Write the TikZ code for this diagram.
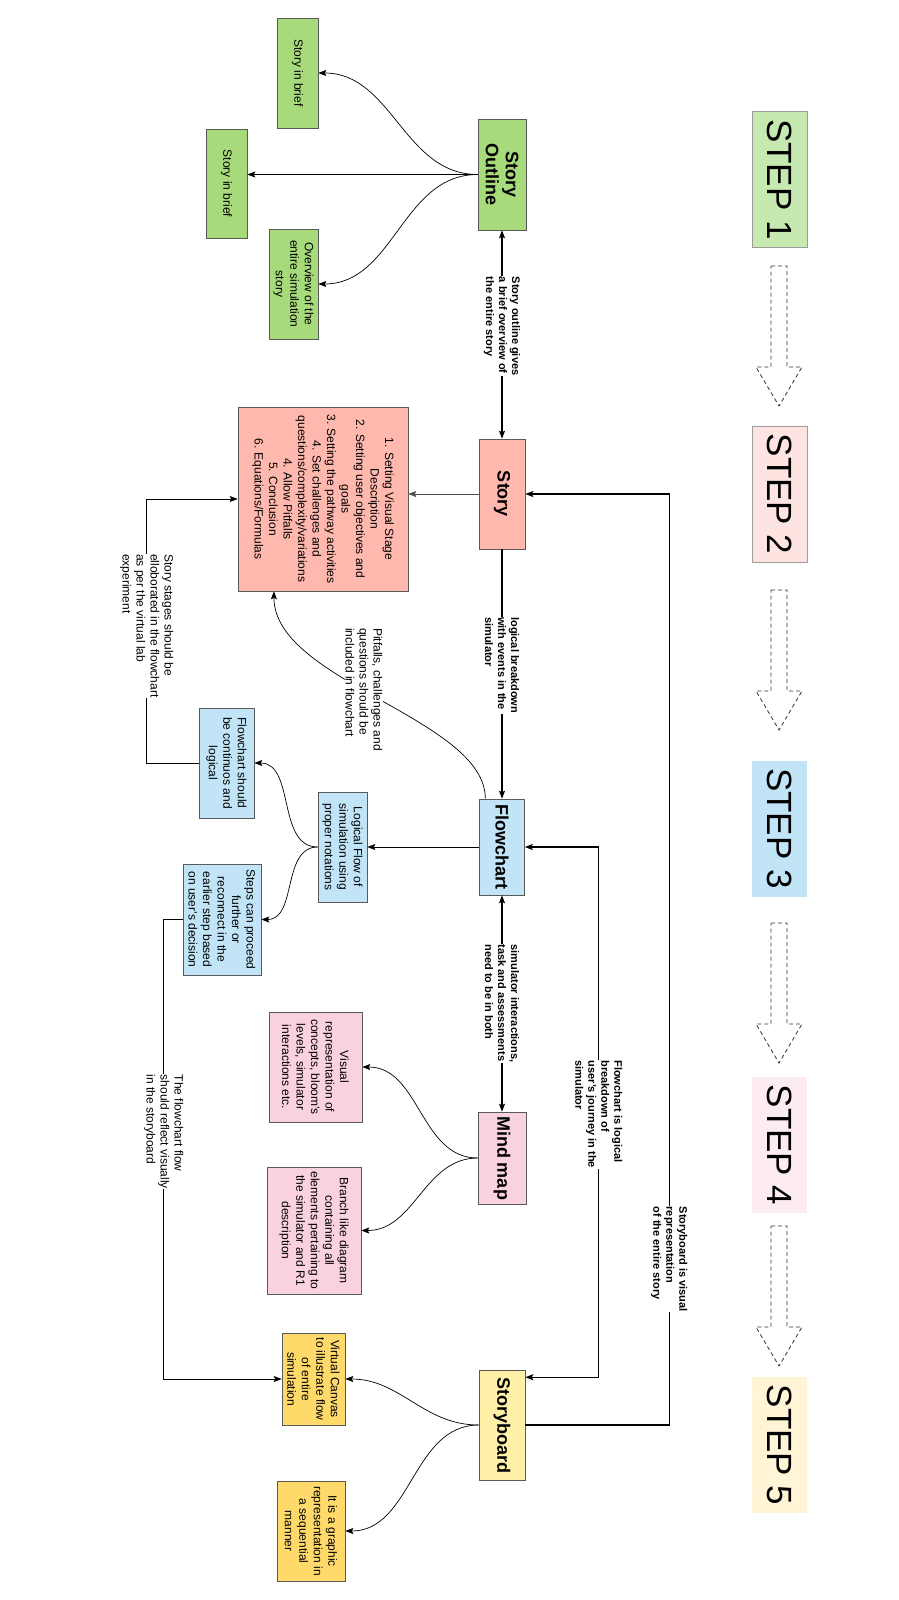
\documentclass[tikz,border=0pt]{standalone}
\usepackage{fontspec}
\setmainfont{Liberation Sans}
\usetikzlibrary{arrows.meta}
\definecolor{ogreen}{HTML}{A6DA7B}
\definecolor{sgreen}{HTML}{C6E8B1}
\definecolor{spink}{HTML}{FFB8AD}
\definecolor{spinklight}{HTML}{FDE4E0}
\definecolor{fblue}{HTML}{C1E4F7}
\definecolor{mpink}{HTML}{F9D2DE}
\definecolor{mpinklight}{HTML}{FCECF0}
\definecolor{byellow}{HTML}{FFF0A8}
\definecolor{bgold}{HTML}{FFDA6A}
\definecolor{byellowlight}{HTML}{FFF4D6}
\definecolor{edgegray}{HTML}{5A5A5A}

\begin{document}
\begin{tikzpicture}[x=1pt,y=-1pt,>={Stealth[length=8pt,width=6pt,inset=1.5pt]},
    card/.style={draw=edgegray,line width=0.6pt,rotate=-90,align=center,inner sep=2pt},
    mainbox/.style={card,minimum width=110pt,minimum height=46pt,font=\bfseries\fontsize{18}{20}\selectfont},
    notebox/.style={card,font=\fontsize{12}{14.5}\selectfont},
    stepbox/.style={rotate=-90,minimum width=136pt,minimum height=55pt,font=\fontsize{35}{40}\selectfont},
    lbl/.style={rotate=-90,fill=white,align=left,inner sep=0.5pt,font=\bfseries\fontsize{11}{13}\selectfont},
    note lbl/.style={lbl,font=\fontsize{12}{14}\selectfont},
    link/.style={line width=1.2pt},
    thin link/.style={line width=0.7pt}]
\useasboundingbox (0,0) rectangle (898,1600);

\node[mainbox,fill=ogreen,minimum width=111pt,minimum height=48pt] (outline) at (502,174.5) {Story\\Outline};
\node[mainbox,fill=spink] (story) at (502,494) {Story};
\node[mainbox,fill=fblue,minimum width=96pt,minimum height=45pt] (flow) at (502,847) {Flowchart};
\node[mainbox,fill=mpink,minimum width=92pt,minimum height=48pt] (mind) at (502,1158) {Mind map};
\node[mainbox,fill=byellow] (board) at (502,1425) {Storyboard};

\node[notebox,fill=ogreen,minimum width=110pt,minimum height=41pt] (brief1) at (297.5,73) {Story in brief};
\node[notebox,fill=ogreen,minimum width=109pt,minimum height=41pt] (brief2) at (226.5,183.5) {Story in brief};
\node[notebox,fill=ogreen,minimum width=110pt,minimum height=49pt] (overview) at (293.5,284) {Overview of the\\entire simulation\\story};
\node[notebox,fill=spink,minimum width=184pt,minimum height=170pt] (stages) at (323,499) {1. Setting Visual Stage\\Description\\2. Setting user objectives and\\goals\\3. Setting the pathway activities\\4. Set challenges and\\questions/complexity/variations\\4. Allow Pitfalls\\5. Conclusion\\6. Equations/Formulas};
\node[notebox,fill=fblue,minimum width=110pt,minimum height=55pt] (fcnote) at (226.5,763) {Flowchart should\\be continuos and\\logical};
\node[notebox,fill=fblue,minimum width=110pt,minimum height=49pt] (logic) at (342.5,847) {Logical Flow of\\simulation using\\proper notations};
\node[notebox,fill=fblue,minimum width=111pt,minimum height=78pt] (steps) at (222,919.5) {Steps can proceed\\further or\\reconnect in the\\earlier step based\\on user's decision};
\node[notebox,fill=mpink,minimum width=110pt,minimum height=93pt] (visual) at (315.5,1067) {Visual\\representation of\\concepts, bloom's\\levels, simulator\\interactions etc.};
\node[notebox,fill=mpink,minimum width=127pt,minimum height=94pt] (branch) at (314,1230.5) {Branch like diagram\\containing all\\elements pertaining to\\the simulator and R1\\description};
\node[notebox,fill=bgold,minimum width=92pt,minimum height=63pt] (canvas) at (313.5,1379) {Virtual Canvas\\to illustrate flow\\of entire\\simulation};
\node[notebox,fill=bgold,minimum width=100pt,minimum height=68pt] (graphic) at (311,1531) {It is a graphic\\representation in\\a sequential\\manner};

\node[stepbox,fill=sgreen,draw=edgegray!60] (step1) at (779.5,179.5) {STEP 1};
\node[stepbox,fill=spinklight,draw=edgegray!60] (step2) at (779.5,494) {STEP 2};
\node[stepbox,fill=fblue] (step3) at (779.5,828.5) {STEP 3};
\node[stepbox,fill=mpinklight] (step4) at (779.5,1145) {STEP 4};
\node[stepbox,fill=byellowlight] (step5) at (779.5,1445) {STEP 5};
\foreach \t in {266,590,923,1226}
  \draw[black!80,line width=0.8pt,dash pattern=on 4pt off 3pt] (771,\t) -- (787,\t) -- (787,\t+101) -- (802,\t+101) -- (779,\t+140) -- (756,\t+101) -- (771,\t+101) -- cycle;

\draw[link,<->] (outline.east) -- (story.west) node[pos=.46,lbl] {Story outline gives\\a brief overview of\\the entire story};
\draw[link,->] (story.east) -- (flow.west) node[pos=.465,lbl] {logical breakdown\\with events in the\\simulator};
\draw[link,<->] (flow.east) -- (mind.west) node[midway,lbl] {simulator interactions,\\task and assessments\\need to be in both};
\draw[link,<->] (flow.north) -- ++(74,0) |- (board.154) node[pos=.252,lbl] {Flowchart is logical\\breakdown of\\user's journey in the\\simulator};
\draw[link,->] (board.north) -- ++(144,0) |- (story.north) node[pos=.089,lbl] {Storyboard is visual\\representation\\of the entire story};

\draw[thin link,->] (outline.south) to[out=180,in=0] (brief1.north);
\draw[thin link,->] (outline.south) -- (outline.south -| brief2.north);
\draw[thin link,->] (outline.south) to[out=180,in=0] (overview.north);
\draw[thin link,black!70,->] (story.south) -- (story.south -| stages.north);
\draw[thin link,->] (flow.south) -- (logic.north);
\draw[thin link,->] (logic.south) to[out=180,in=0] (fcnote.north);
\draw[thin link,->] (logic.south) to[out=180,in=0] (steps.north);
\draw[thin link,->] (mind.south) to[out=180,in=0] (visual.north);
\draw[thin link,->] (mind.south) to[out=180,in=0] (branch.north);
\draw[thin link,->] (board.south) to[out=180,in=0] (canvas.north);
\draw[thin link,->] (board.south) to[out=180,in=0] (graphic.north);

\draw[thin link,->] (flow.199) .. controls +(0,-80) and +(0,90) .. (stages.332) node[pos=.55,note lbl] {Pitfalls, challenges and\\questions should be\\included in flowchart};
\draw[thin link,->] (fcnote.south) -- ++(-52,0) |- (stages.south) node[pos=.26,note lbl] {Story stages should be\\elloborated in the flowchart\\as per the virtual lab\\experiment};
\draw[thin link,->] (steps.south) -- ++(-19,0) |- (canvas.south) node[pos=.231,note lbl] {The flowchart flow\\should reflect visually\\in the storyboard};
\end{tikzpicture}
\end{document}
